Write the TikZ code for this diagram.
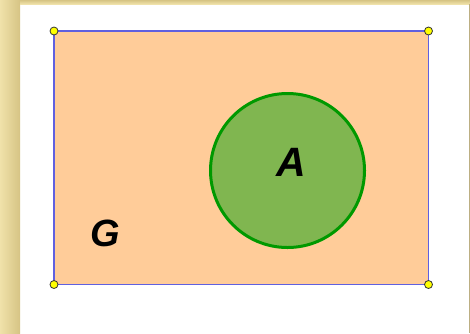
\documentclass[tikz,border=0pt]{standalone}
\usepackage{fontspec}
\setmainfont{Liberation Sans}
\definecolor{frameLight}{RGB}{240,226,170}
\definecolor{frameDark}{RGB}{214,196,132}
\definecolor{setFill}{RGB}{255,204,153}
\definecolor{setEdge}{RGB}{96,96,224}
\definecolor{subFill}{RGB}{128,182,80}
\definecolor{subEdge}{RGB}{0,153,0}
\definecolor{dotFill}{RGB}{255,255,0}
\tikzset{
  corner/.style={circle,draw=black!80,fill=dotFill,line width=0.8pt,inner sep=0pt,minimum size=8pt},
  setlabel/.style={font=\fontsize{38}{38}\selectfont\bfseries\itshape,inner sep=0pt}
}
\begin{document}
\begin{tikzpicture}[x=1pt,y=-1pt]
  \useasboundingbox (0,0) rectangle (470,333);
  % paper frame
  \fill[white] (0,0) rectangle (470,333);
  \shade[left color=frameLight,right color=frameDark] (0,0) rectangle (20,333);
  \shade[top color=frameDark,bottom color=frameLight] (20,0) rectangle (470,4);
  \fill[frameDark!70!gray] (468.5,4) rectangle (470,333);
  % universal set
  \coordinate (tl) at (54,31);
  \coordinate (br) at (428.5,284.5);
  \draw[setEdge,fill=setFill,line width=1.3pt] (tl) rectangle (br);
  % subset A
  \draw[subEdge,fill=subFill,line width=3pt] (287.5,170.5) circle (77);
  \node[setlabel,font=\fontsize{41}{41}\selectfont\bfseries\itshape] (A) at (291,162) {A};
  \node[setlabel] (G) at (105,233) {G};
  % corner points
  \node[corner] (p1) at (54,31) {};
  \node[corner] (p2) at (428.5,31) {};
  \node[corner] (p3) at (54,284.5) {};
  \node[corner] (p4) at (428.5,284.5) {};
\end{tikzpicture}
\end{document}
